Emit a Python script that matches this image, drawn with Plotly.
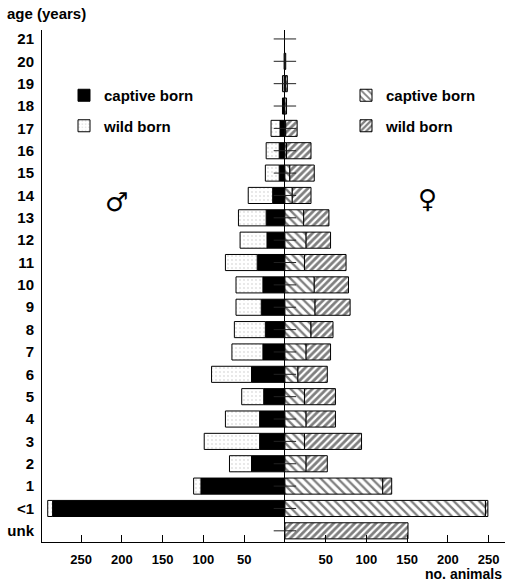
import plotly.graph_objects as go

ages = ["unk", "<1", "1", "2", "3", "4", "5", "6", "7", "8", "9", "10",
        "11", "12", "13", "14", "15", "16", "17", "18", "19", "20", "21"]

male_captive = [0, 285, 103, 41, 31, 31, 26, 41, 27, 24, 29, 27, 34, 22, 23, 15, 7, 7, 6, 3, 1, 0, 0]
male_wild = [0, 6, 9, 27, 68, 42, 27, 49, 38, 38, 31, 33, 39, 33, 34, 30, 17, 16, 11, 0, 2, 1, 0]
female_captive = [0, 246, 120, 26, 24, 26, 24, 16, 26, 32, 37, 36, 24, 26, 23, 9, 6, 2, 1, 2, 1, 1, 0]
female_wild = [151, 3, 11, 26, 70, 36, 38, 36, 30, 27, 43, 42, 51, 30, 31, 23, 30, 30, 14, 0, 2, 0, 0]

x_tickvals = [-250, -200, -150, -100, -50, 50, 100, 150, 200, 250]
x_ticktext = ["250", "200", "150", "100", "50", "50", "100", "150", "200", "250"]

FONT = "Liberation Sans, Arial, sans-serif"
W, H = 505, 583
L, R, T, B = 42, 0, 30, 41


def px_x(p):
    return (p - L) / (W - L - R)


def px_y(p):
    return (H - B - p) / (H - T - B)


def nz(vals, sign=1):
    return [sign * v if v else None for v in vals]


line = dict(color="black", width=1)
fig = go.Figure()
fig.add_trace(go.Bar(
    y=ages, x=nz(male_captive, -1), orientation="h", name="captive born",
    marker=dict(color="black", line=line), width=0.72,
    legend="legend", legendgroup="mc"))
fig.add_trace(go.Bar(
    y=ages, x=nz(male_wild, -1), orientation="h", name="wild born",
    marker=dict(color="white", line=line,
                pattern=dict(shape=".", fgcolor="#888", bgcolor="white", size=4, solidity=0.1)),
    width=0.72, legend="legend", legendgroup="mw"))
fig.add_trace(go.Bar(
    y=ages, x=nz(female_captive), orientation="h", name="captive born",
    marker=dict(color="white", line=line,
                pattern=dict(shape="\\", fgcolor="black", bgcolor="white", size=6, solidity=0.38)),
    width=0.72, legend="legend2", legendgroup="fc"))
fig.add_trace(go.Bar(
    y=ages, x=nz(female_wild), orientation="h", name="wild born",
    marker=dict(color="white", line=line,
                pattern=dict(shape="/", fgcolor="black", bgcolor="white", size=5, solidity=0.55)),
    width=0.72, legend="legend2", legendgroup="fw"))

# central axis tick marks
fig.add_trace(go.Scatter(
    y=ages, x=[0] * len(ages), mode="markers", showlegend=False, hoverinfo="skip",
    marker=dict(symbol="line-ew", size=16, line=dict(color="#222", width=1))))

legend_common = dict(
    xanchor="left", yanchor="top", bgcolor="rgba(0,0,0,0)",
    font=dict(family=FONT, size=15, color="black", weight="bold"),
    traceorder="grouped", tracegroupgap=8, itemwidth=30)

fig.update_layout(
    width=W, height=H,
    margin=dict(l=L, r=R, t=T, b=B, pad=0),
    paper_bgcolor="white", plot_bgcolor="white",
    barmode="relative", bargap=0.28,
    font=dict(family=FONT, size=14, color="black"),
    legend=dict(x=px_x(64), y=px_y(79), **legend_common),
    legend2=dict(x=px_x(346), y=px_y(79), **legend_common),
    xaxis=dict(range=[-298, 270], tickvals=x_tickvals, ticktext=x_ticktext,
               ticks="inside", ticklen=7, tickcolor="black", tickwidth=1,
               showgrid=False, zeroline=True, zerolinecolor="black", zerolinewidth=1,
               showline=True, linecolor="black", linewidth=1,
               tickfont=dict(family=FONT, size=13, weight="bold"), ticklabelstandoff=5),
    yaxis=dict(type="category", categoryorder="array", categoryarray=ages,
               range=[-0.5, 22.4], showgrid=False, zeroline=False,
               showline=True, linecolor="black", linewidth=1, ticks="",
               tickfont=dict(family=FONT, size=15, weight="bold"), ticklabelstandoff=4),
    showlegend=True,
)

fig.add_annotation(text="age (years)", xref="paper", yref="paper",
                   x=px_x(5), y=px_y(13), xanchor="left", yanchor="middle", showarrow=False,
                   font=dict(family=FONT, size=15, weight="bold"))
fig.add_annotation(text="no. animals", xref="paper", yref="paper",
                   x=px_x(504), y=px_y(574), xanchor="right", yanchor="middle", showarrow=False,
                   font=dict(family=FONT, size=14, weight="bold"))
fig.add_annotation(text="♂", xref="paper", yref="paper",
                   x=px_x(116), y=px_y(202), xanchor="center", yanchor="middle", showarrow=False,
                   font=dict(family="DejaVu Sans", size=26))
fig.add_annotation(text="♀", xref="paper", yref="paper",
                   x=px_x(427), y=px_y(199), xanchor="center", yanchor="middle", showarrow=False,
                   font=dict(family="DejaVu Sans", size=26))

fig.write_html("out.html", config={"displayModeBar": False},
               post_script="document.body.style.margin='0';document.body.style.overflow='hidden';")
